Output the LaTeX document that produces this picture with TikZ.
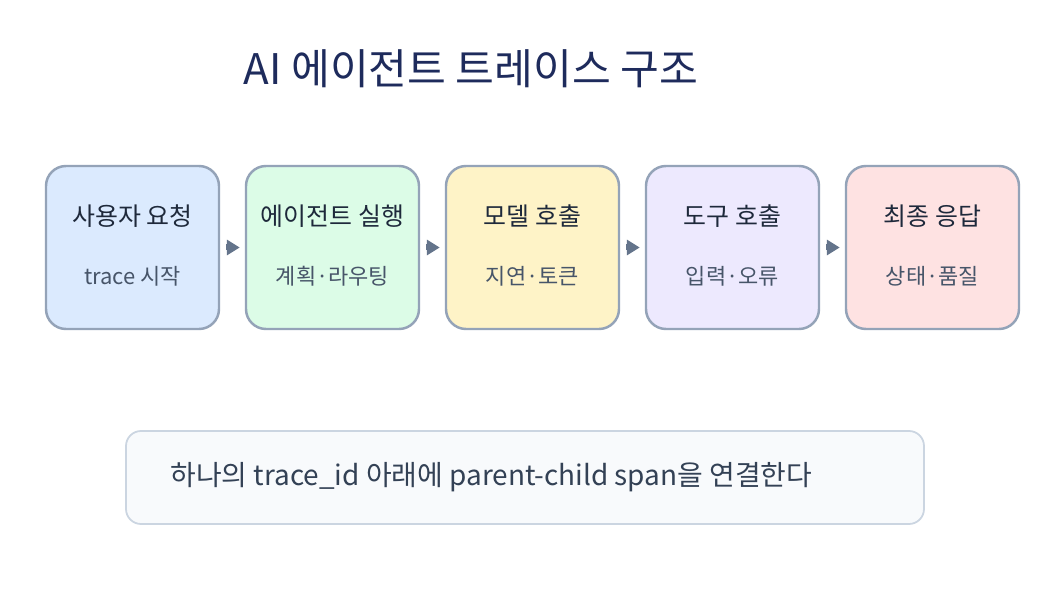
\documentclass[tikz,border=0pt]{standalone}
\usepackage{fontspec}
\setmainfont{Noto Sans CJK KR}
\usepackage{tikz}
\usetikzlibrary{arrows,arrows.meta,positioning}

\definecolor{titlec}{HTML}{1E2B5C}
\definecolor{textc}{HTML}{1E293B}
\definecolor{subc}{HTML}{475569}
\definecolor{edgec}{HTML}{94A3B8}
\definecolor{arrowc}{HTML}{64748B}
\definecolor{userc}{HTML}{DBEAFE}
\definecolor{agentc}{HTML}{DCFCE7}
\definecolor{modelc}{HTML}{FEF3C7}
\definecolor{toolc}{HTML}{EDE9FE}
\definecolor{answerc}{HTML}{FEE2E2}
\definecolor{notec}{HTML}{F8FAFC}
\definecolor{noteedgec}{HTML}{CBD5E1}
\definecolor{notetextc}{HTML}{334155}

\tikzset{
  stage/.style={draw=edgec, line width=1.4pt, rounded corners=0.4cm,
    minimum width=3.46cm, minimum height=3.26cm, inner sep=0pt},
  stagetitle/.style={text=textc, font=\fontsize{14.2}{17}\selectfont, inner sep=0pt},
  stagesub/.style={text=subc, font=\fontsize{12.5}{15}\selectfont, inner sep=0pt},
  flow/.style={-{Triangle[length=0.26cm,width=0.3cm]}, arrowc, line width=0.12cm,
    shorten <=0.12cm, shorten >=0.1cm},
}

\newcommand{\tracestage}[5]{
  % one stage box of the trace
  % parameter 1: node name
  % parameter 2: x position of the centre
  % parameter 3: fill colour
  % parameter 4: stage title
  % parameter 5: stage detail
  \node[stage, fill=#3] (#1) at (#2,7.05) {};
  \node[stagetitle] (#1-title) at ([yshift=0.63cm]#1.center) {#4};
  \node[stagesub] (#1-sub) at ([yshift=-0.57cm]#1.center) {#5};
}

\begin{document}
\begin{tikzpicture}
    \useasboundingbox[fill=white] (0,0) rectangle (21,12);

        \node[text=titlec, font=\fontsize{24}{28}\selectfont, inner sep=0pt] (title) at (9.42,10.62) {AI 에이전트 트레이스 구조};

        \tracestage{user}{2.65}{userc}{사용자 요청}{trace 시작}
        \tracestage{agent}{6.65}{agentc}{에이전트 실행}{계획·라우팅}
        \tracestage{model}{10.65}{modelc}{모델 호출}{지연·토큰}
        \tracestage{tool}{14.65}{toolc}{도구 호출}{입력·오류}
        \tracestage{answer}{18.65}{answerc}{최종 응답}{상태·품질}

        \draw[flow] (user.east) -- (agent.west);
        \draw[flow] (agent.east) -- (model.west);
        \draw[flow] (model.east) -- (tool.west);
        \draw[flow] (tool.east) -- (answer.west);

        \node[draw=noteedgec, fill=notec, line width=1pt, rounded corners=0.3cm,
          minimum width=15.96cm, minimum height=1.86cm] (note) at (10.5,2.45) {};
        \node[anchor=west, text=notetextc, font=\fontsize{15.9}{19}\selectfont, inner sep=0pt]
          (notetext) at (3.4,2.45) {하나의 trace\_id 아래에 parent-child span을 연결한다};
  \end{tikzpicture}
\end{document}
